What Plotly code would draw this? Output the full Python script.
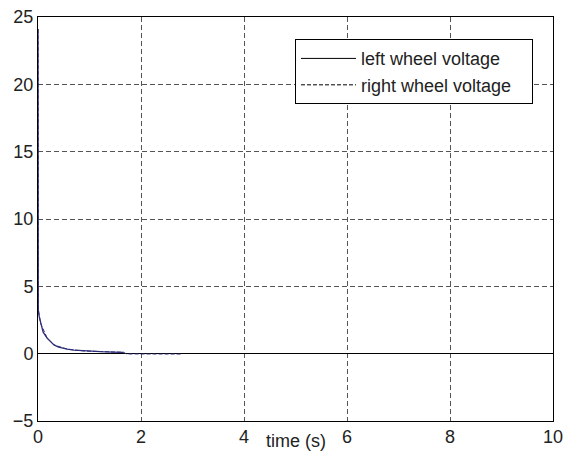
import plotly.graph_objects as go

# Data
t_left = [0, 0.005, 0.02, 0.05, 0.1, 0.18, 0.25, 0.31, 0.4, 0.5, 0.57, 0.7, 0.89, 1.05, 1.21, 1.45, 1.66]
v_left = [24.1, 3.3, 2.8, 2.25, 1.6, 1.14, 0.85, 0.65, 0.48, 0.38, 0.33, 0.26, 0.2, 0.17, 0.15, 0.12, 0.1]

t_right = [0, 0.005, 0.05, 0.18, 0.31, 0.57, 0.89, 1.21, 1.66, 1.72, 2.2, 2.8]
v_right = [24.1, 3.3, 2.25, 1.14, 0.65, 0.33, 0.2, 0.15, 0.1, -0.02, -0.03, -0.03]

x_ticks = [0, 2, 4, 6, 8, 10]
x_tick_labels = ["0", "2", "4", "6", "8", "10"]
y_ticks = [-5, 0, 5, 10, 15, 20, 25]

font = "Liberation Sans, Arial, sans-serif"
line_col = "#2e2e78"

fig = go.Figure()
fig.add_trace(go.Scatter(x=t_left, y=v_left, mode="lines", name="left wheel voltage",
                         line=dict(color=line_col, width=1.3), showlegend=False))
fig.add_trace(go.Scatter(x=t_right, y=v_right, mode="lines", name="right wheel voltage",
                         line=dict(color=line_col, width=1.0, dash="4px,2px"), showlegend=False))
# legend entries (drawn in black, as in the reference legend)
fig.add_trace(go.Scatter(x=[None], y=[None], mode="lines", name="left wheel voltage",
                         line=dict(color="black", width=1)))
fig.add_trace(go.Scatter(x=[None], y=[None], mode="lines", name="right wheel voltage\u00a0\u00a0\u00a0",
                         line=dict(color="black", width=1, dash="4px,2px")))

axis_common = dict(showline=True, linecolor="black", linewidth=1, mirror=True,
                   showgrid=True, gridcolor="#555555", griddash="5px,3px", gridwidth=1,
                   ticks="", automargin=False,
                   tickfont=dict(family=font, size=18, color="#222"))

fig.update_xaxes(range=[0, 10], tickvals=x_ticks, zeroline=False, showticklabels=False,
                 **axis_common)
fig.update_yaxes(range=[-5, 25], tickvals=y_ticks, zeroline=True, zerolinecolor="black",
                 zerolinewidth=1, **axis_common)

# x tick labels as annotations so the last one is not dropped at the page edge
for xv, lab in zip(x_ticks, x_tick_labels):
    fig.add_annotation(text=lab, x=xv, xref="x", y=0, yref="paper", yshift=-16,
                       showarrow=False, xanchor="center", yanchor="middle",
                       font=dict(family=font, size=18, color="#222"))

fig.add_annotation(text="time (s)", xref="paper", yref="paper", x=0.5, y=0, yshift=-20,
                   showarrow=False, xanchor="center", yanchor="middle",
                   font=dict(family=font, size=18, color="#222"))

fig.update_layout(
    width=563, height=460,
    margin=dict(l=38, r=10, t=17, b=39),
    paper_bgcolor="white", plot_bgcolor="white",
    showlegend=True,
    legend=dict(x=0.499, y=0.945, xanchor="left", yanchor="top",
                bgcolor="white", bordercolor="black", borderwidth=1,
                font=dict(family=font, size=18, color="#222"),
                tracegroupgap=0, itemwidth=55),
)

fig.write_html("out.html")
